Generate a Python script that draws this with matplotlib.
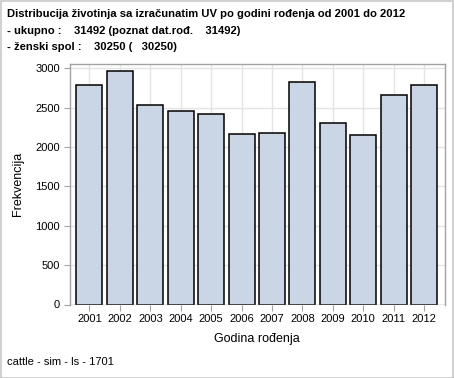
import matplotlib
matplotlib.use("Agg")
import matplotlib.pyplot as plt
from matplotlib.patches import Rectangle

# data
years = [2001, 2002, 2003, 2004, 2005, 2006, 2007, 2008, 2009, 2010, 2011, 2012]
counts = [2796, 2974, 2530, 2453, 2415, 2161, 2186, 2822, 2301, 2148, 2657, 2796]
yticks = [0, 500, 1000, 1500, 2000, 2500, 3000]

title_lines = [
    "Distribucija životinja sa izračunatim UV po godini rođenja od 2001 do 2012",
    "- ukupno :    31492 (poznat dat.rođ.    31492)",
    "- ženski spol :    30250 (   30250)",
]
footnote = "cattle - sim - ls - 1701"

plt.rcParams['font.family'] = ['Liberation Sans', 'DejaVu Sans']

W, H = 454, 378
fig = plt.figure(figsize=(W / 100, H / 100), dpi=100)
fig.patch.set_facecolor('white')

# outer gray frame
fig.add_artist(Rectangle((0.5 / W, 0.5 / H), (W - 1.5) / W, (H - 1.5) / H,
                         transform=fig.transFigure, fill=False,
                         edgecolor='#c8c8c8', linewidth=1.2))

# plot area in pixels
left, right, top, bottom = 69.5, 444.5, 63.5, 304.5
ax = fig.add_axes([left / W, 1 - bottom / H, (right - left) / W, (bottom - top) / H])

ax.bar(years, counts, width=0.854, color='#cad5e5', edgecolor='black',
       linewidth=1.1, zorder=3)

ax.set_xlim(years[0] - 0.657, years[-1] + 0.67)
ax.set_ylim(0, 3063)
ax.set_xticks(years)
ax.set_xticklabels([str(y) for y in years])
ax.set_yticks(yticks)

ax.grid(True, color='#e4e4e4', linewidth=1.0, zorder=0)
ax.set_axisbelow(True)

for s in ['left', 'top', 'right']:
    ax.spines[s].set_color('#a0a3a6')
    ax.spines[s].set_linewidth(1.0)
ax.spines['bottom'].set_visible(False)
ax.axhline(0, color='#a0a3a6', linewidth=1.0, zorder=4)

ax.tick_params(axis='both', direction='out', length=4, width=0.8,
               color='#a0a3a6', labelsize=8, labelcolor='black', pad=3)

ax.set_xlabel('Godina rođenja', fontsize=9, labelpad=6)
ax.set_ylabel('Frekvencija', fontsize=9, labelpad=8)

ys = [14, 31, 47]
for line, y in zip(title_lines, ys):
    fig.text(7 / W, 1 - y / H, line, fontsize=8.1, fontweight='bold',
             ha='left', va='center')

fig.text(7 / W, 1 - 362 / H, footnote, fontsize=8, ha='left', va='center')

fig.savefig('out.png', dpi=100)
